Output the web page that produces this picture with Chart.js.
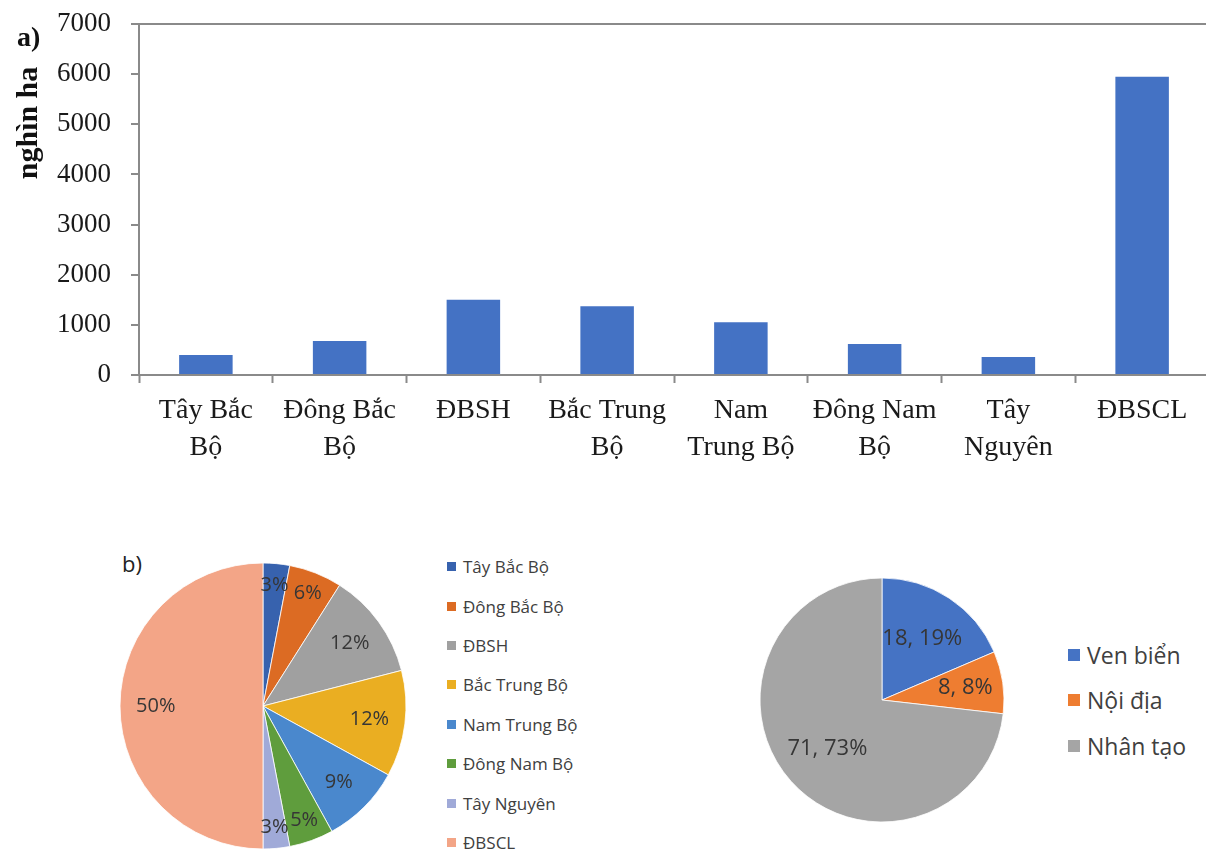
<!DOCTYPE html>
<html>
<head>
<meta charset="utf-8">
<script src="https://cdn.jsdelivr.net/npm/chart.js@4.4.1/dist/chart.umd.min.js"></script>
<style>
  html, body { margin: 0; padding: 0; background: #fff; width: 1206px; height: 855px; overflow: hidden; }
  .box { position: absolute; }
  #areaWrap { left: 0; top: 0; width: 1212px; height: 480px; }
  #tagA { left: 17px; top: 21px; font: bold 28px "Liberation Serif", serif; color: #111; }
  #yTitle { left: 27px; top: 123px; transform: translate(-50%, -50%) rotate(-90deg); font: bold 30px "Liberation Serif", serif; color: #111; white-space: nowrap; }
  #tagB { left: 122px; top: 548px; font: 22px "Open Sans", sans-serif; color: #222; }
  #regionWrap { left: 113px; top: 556px; width: 300px; height: 300px; }
  #typeWrap { left: 752px; top: 570px; width: 260px; height: 260px; }
  .legend { position: absolute; list-style: none; margin: 0; padding: 0; font-family: "Open Sans", sans-serif; color: #404040; }
  .legend li { display: flex; align-items: center; white-space: nowrap; }
  .legend .sw { display: inline-block; flex: none; }
  #legendB { left: 447px; top: 547px; font-size: 17px; }
  #legendB li { height: 39.4px; }
  #legendB .sw { width: 9px; height: 9px; margin-right: 7px; }
  #legendC { left: 1068px; top: 632px; font-size: 23px; }
  #legendC li { height: 45.5px; }
  #legendC .sw { width: 12px; height: 12px; margin-right: 7px; }
</style>
</head>
<body>
<div class="box" id="areaWrap"><canvas id="areaChart"></canvas></div>
<div class="box" id="tagA">a)</div>
<div class="box" id="yTitle">nghìn ha</div>
<div class="box" id="tagB">b)</div>
<div class="box" id="regionWrap"><canvas id="regionPie"></canvas></div>
<ul class="legend" id="legendB"></ul>
<div class="box" id="typeWrap"><canvas id="typePie"></canvas></div>
<ul class="legend" id="legendC"></ul>

<script>
// a) area by region (thousand ha)
const regionTicks = [['Tây Bắc', 'Bộ'], ['Đông Bắc', 'Bộ'], 'ĐBSH', ['Bắc Trung', 'Bộ'], ['Nam', 'Trung Bộ'], ['Đông Nam', 'Bộ'], ['Tây', 'Nguyên'], 'ĐBSCL'];
const regionArea = [400, 680, 1500, 1370, 1050, 620, 360, 5950];
const yTicks = [0, 1000, 2000, 3000, 4000, 5000, 6000, 7000];

// b) share by region (%)
const regionNames = ['Tây Bắc Bộ', 'Đông Bắc Bộ', 'ĐBSH', 'Bắc Trung Bộ', 'Nam Trung Bộ', 'Đông Nam Bộ', 'Tây Nguyên', 'ĐBSCL'];
const regionShare = [3, 6, 12, 12, 9, 5, 3, 50];
const regionColors = ['#3762ae', '#dc6b23', '#a0a0a0', '#eaae22', '#4a88cd', '#5f9d3d', '#a0aad8', '#f3a587'];

// wetland type
const typeNames = ['Ven biển', 'Nội địa', 'Nhân tạo'];
const typeValues = [18, 8, 71];
const typeColors = ['#4573c4', '#ee7d31', '#a5a5a5'];

const serif = '"Liberation Serif", serif';
const sans = '"Open Sans", sans-serif';
const axisGrey = '#8a8a8a';

Chart.defaults.animation = false;
Chart.defaults.plugins.tooltip.enabled = false;

new Chart(document.getElementById('areaChart'), {
  type: 'bar',
  data: {
    labels: regionTicks,
    datasets: [{
      data: regionArea,
      backgroundColor: '#4472c4',
      barPercentage: 0.4,
      categoryPercentage: 1.0
    }]
  },
  options: {
    responsive: true,
    maintainAspectRatio: false,
    layout: { padding: { top: 24, right: 3, left: 0, bottom: 0 } },
    plugins: { legend: { display: false } },
    scales: {
      x: {
        grid: { offset: true, drawOnChartArea: false, tickColor: axisGrey, tickLength: 8, tickWidth: 2 },
        border: { display: true, color: axisGrey, width: 2 },
        ticks: { color: '#1a1a1a', font: { family: serif, size: 28, lineHeight: 1.32 }, padding: 9, maxRotation: 0, autoSkip: false },
        afterFit: s => { s.height = 105; }
      },
      y: {
        min: 0,
        max: 7000,
        afterBuildTicks: s => { s.ticks = yTicks.map(v => ({ value: v })); },
        grid: {
          color: c => (c.tick && c.tick.value === 7000) ? axisGrey : 'rgba(0,0,0,0)',
          lineWidth: 2,
          tickColor: axisGrey,
          tickLength: 8,
          tickWidth: 2
        },
        border: { display: true, color: axisGrey, width: 2 },
        ticks: { color: '#1a1a1a', font: { family: serif, size: 27 }, padding: 20, callback: v => String(v) },
        // fixed axis width; the label padding would otherwise push the plot down
        afterFit: s => { s.width = 139; s.paddingTop = 10; s.paddingBottom = 10; }
      }
    }
  }
});

// draws text on each slice, at a fraction of the radius
function sliceLabels(format, radiusFor, font) {
  return {
    id: 'sliceLabels',
    afterDatasetsDraw(chart) {
      const ctx = chart.ctx;
      const data = chart.data.datasets[0].data;
      const total = data.reduce((a, b) => a + b, 0);
      ctx.save();
      ctx.font = font;
      ctx.fillStyle = '#363636';
      ctx.textAlign = 'center';
      ctx.textBaseline = 'middle';
      chart.getDatasetMeta(0).data.forEach((arc, i) => {
        const p = arc.getProps(['x', 'y', 'startAngle', 'endAngle', 'outerRadius'], true);
        const mid = (p.startAngle + p.endAngle) / 2;
        const r = p.outerRadius * radiusFor(data[i] / total);
        ctx.fillText(format(data[i], total), p.x + Math.cos(mid) * r, p.y + Math.sin(mid) * r);
      });
      ctx.restore();
    }
  };
}

function pieOptions(radius) {
  return {
    responsive: true,
    maintainAspectRatio: false,
    radius: radius,
    plugins: { legend: { display: false } }
  };
}

new Chart(document.getElementById('regionPie'), {
  type: 'pie',
  data: {
    labels: regionNames,
    datasets: [{ data: regionShare, backgroundColor: regionColors, borderColor: '#fff', borderWidth: 0.8 }]
  },
  options: pieOptions(143),
  plugins: [sliceLabels(v => v + '%', share => share < 0.07 ? 0.85 : 0.75, '20px ' + sans)]
});

new Chart(document.getElementById('typePie'), {
  type: 'pie',
  data: {
    labels: typeNames,
    datasets: [{ data: typeValues, backgroundColor: typeColors, borderColor: '#fff', borderWidth: 0.8 }]
  },
  options: pieOptions(122),
  plugins: [sliceLabels((v, t) => v + ', ' + Math.round(v / t * 100) + '%', share => share < 0.1 ? 0.69 : 0.6, '22px ' + sans)]
});

function buildLegend(id, names, colors) {
  const ul = document.getElementById(id);
  names.forEach((name, i) => {
    const li = document.createElement('li');
    li.innerHTML = `<span class="sw" style="background:${colors[i]}"></span><span>${name}</span>`;
    ul.appendChild(li);
  });
}
buildLegend('legendB', regionNames, regionColors);
buildLegend('legendC', typeNames, typeColors);
</script>
</body>
</html>
